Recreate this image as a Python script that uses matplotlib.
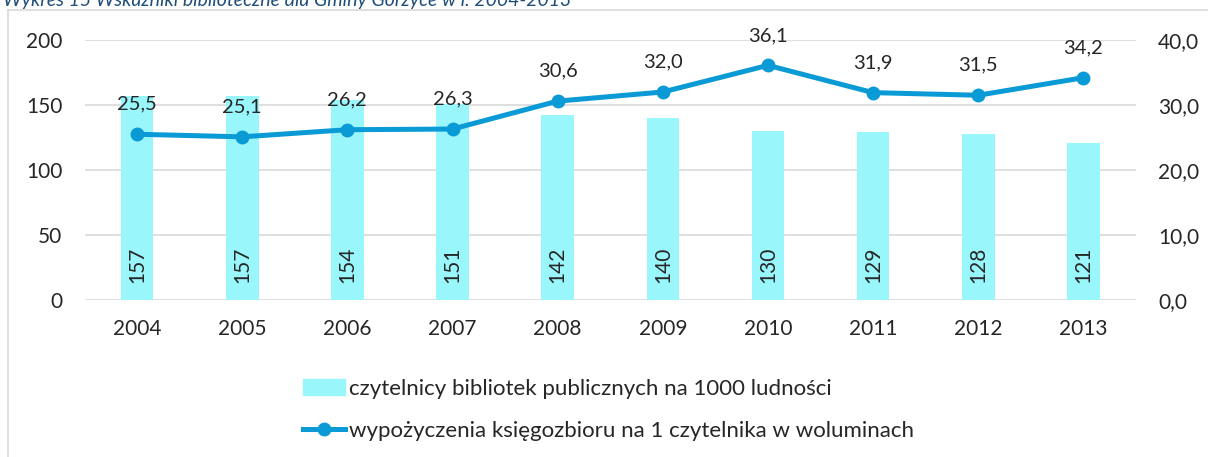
import matplotlib
matplotlib.use('Agg')
from matplotlib import pyplot as plt
from matplotlib.lines import Line2D
import numpy as np

plt.rcParams['font.family'] = ['Lato', 'DejaVu Sans']

years = ['2004', '2005', '2006', '2007', '2008', '2009', '2010', '2011', '2012', '2013']
readers = [157, 157, 154, 151, 142, 140, 130, 129, 128, 121]  # na 1000 ludnosci
loans = [25.5, 25.1, 26.2, 26.3, 30.6, 32.0, 36.1, 31.9, 31.5, 34.2]  # woluminy na 1 czytelnika

bar_col = '#99F6FA'
line_col = '#0A9AD6'
grid_col = '#D9D9D9'
txt_col = '#262626'

fig = plt.figure(figsize=(12.08, 4.57), dpi=100)
ax = fig.add_axes([84.5/1208, 1-300/457, (1136-84.5)/1208, 260/457])
ax2 = ax.twinx()

x = np.arange(len(years))
ax.bar(x, readers, width=0.31, color=bar_col, zorder=2)
for xi, v in zip(x, readers):
    ax.text(xi, 27, str(v), rotation=90, ha='center', va='center', fontsize=15, color=txt_col, zorder=5)

ax2.plot(x, loans, color=line_col, linewidth=3.6, marker='o', markersize=9, zorder=4)
for xi, v in zip(x, loans):
    ax2.text(xi, v + 3.3, ('%.1f' % v).replace('.', ','), ha='center', va='bottom', fontsize=14.5, color=txt_col)

ax.set_xlim(-0.5, len(years) - 0.5)
ax.set_ylim(0, 200)
ax2.set_ylim(0, 40)
ax.set_yticks([0, 50, 100, 150, 200])
ax2.set_yticks([0, 10, 20, 30, 40])
ax2.set_yticklabels([('%.1f' % t).replace('.', ',') for t in [0, 10, 20, 30, 40]])
ax.set_xticks(x)
ax.set_xticklabels(years)
ax.grid(axis='y', color=grid_col, linewidth=1.2, zorder=0)
ax.set_axisbelow(True)
for a in (ax, ax2):
    for s in a.spines.values():
        s.set_visible(False)
    a.tick_params(length=0, labelsize=15, colors=txt_col)
ax.tick_params(axis='y', pad=16)
ax2.tick_params(axis='y', pad=16)
ax.tick_params(axis='x', pad=14)
ax.set_zorder(ax2.get_zorder() - 1)
ax2.patch.set_visible(False)
ax.patch.set_visible(False)

handles = [plt.Rectangle((0, 0), 1, 1, color=bar_col),
           Line2D([0], [0], color=line_col, linewidth=3.6, marker='o', markersize=9)]
labels = ['czytelnicy bibliotek publicznych na 1000 ludności',
          'wypożyczenia księgozbioru na 1 czytelnika w woluminach']
fig.legend(handles, labels, loc='upper left', bbox_to_anchor=(283/1208, 1-359/457),
           frameon=False, fontsize=16, labelspacing=1.0, handlelength=1.9, handletextpad=0.15,
           labelcolor=txt_col)

# frame of the chart area
fig.add_artist(Line2D([8/1208, 1], [1-10/457, 1-10/457], color=grid_col, linewidth=1.2))
fig.add_artist(Line2D([8/1208, 8/1208], [0, 1-10/457], color=grid_col, linewidth=1.2))

# title, partly cut off at the top
fig.text(3/1208, 1-6/457, 'Wykres 15 Wskaźniki biblioteczne dla Gminy Gorzyce w l. 2004-2013',
         fontsize=14, style='italic', color='#1F4E79', va='baseline', ha='left')

fig.savefig('out.png', dpi=100)
